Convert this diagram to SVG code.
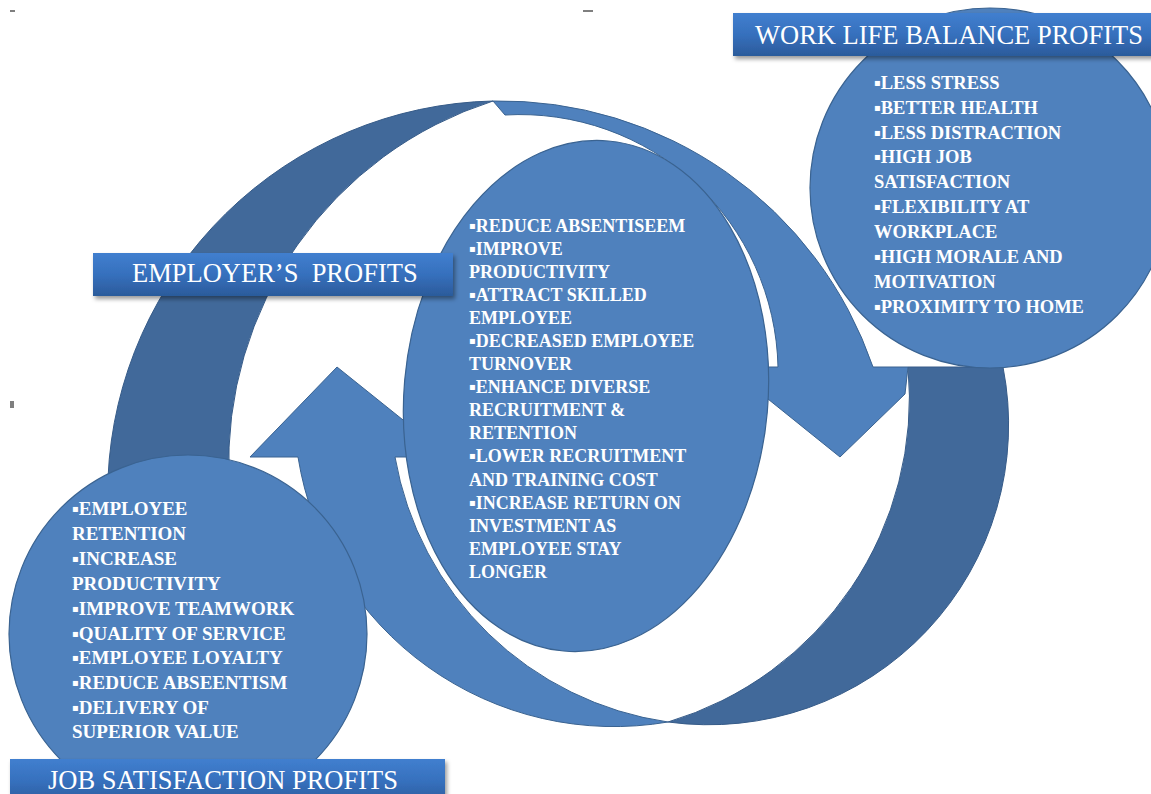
<svg xmlns="http://www.w3.org/2000/svg" width="1151" height="794" viewBox="0 0 1151 794">
  <style>
    .back{fill:#41699a;stroke:#365b88;stroke-width:1}
    .front{fill:#4f81bd;stroke:#3a6391;stroke-width:1}
    .bubble{fill:#4f81bd;stroke:#3a6391;stroke-width:1.2}
    .banner{fill:url(#bannerFill);filter:url(#bannerShadow)}
    .title{font-family:"Liberation Serif","Times New Roman",serif;font-size:26.5px;fill:#ffffff;white-space:pre}
    .body{font-family:"Liberation Serif","Times New Roman",serif;font-weight:bold;fill:#ffffff}
    .dot{font-family:"DejaVu Sans",sans-serif;font-size:10px;font-weight:normal;baseline-shift:3px}
    .mark{fill:#7f7f7f}
  </style>
  <defs>
    <linearGradient id="bannerFill" x1="0" y1="0" x2="0" y2="1">
      <stop offset="0" stop-color="#417fcf"/>
      <stop offset="0.5" stop-color="#3670bd"/>
      <stop offset="1" stop-color="#2b5b9b"/>
    </linearGradient>
    <filter id="bannerShadow" x="-5%" y="-20%" width="110%" height="160%">
      <feDropShadow dx="2" dy="3" stdDeviation="2" flood-color="#000" flood-opacity="0.4"/>
    </filter>
  </defs>

  <rect width="1151" height="794" fill="#ffffff"/>

  <!-- stray page marks -->
  <rect class="mark" x="10" y="10" width="5" height="2"/>
  <rect class="mark" x="583" y="10" width="10" height="2"/>
  <rect class="mark" x="10" y="401" width="4" height="7"/>

  <!-- the two circular arrows linking the three benefit groups -->
  <g id="connectors">
    <!-- back halves (darker shade) -->
    <path class="back" d="M 493 101 A 394 394 0 0 0 108 478 L 229 478 A 380 380 0 0 1 493 101 Z"/>
    <path class="back" d="M 668 722 A 300 300 0 0 0 1003 367 L 908 367 A 338 338 0 0 1 668 722 Z"/>
    <!-- front halves with arrowheads -->
    <path class="front" d="M 493 101 A 394 394 0 0 1 873 367 L 908 367 L 905 394 L 840 457 L 763 395 L 763 367 L 778 367 A 258 258 0 0 0 505 115 Z"/>
    <path class="front" d="M 337 367 L 250 457 L 298 457 A 320 320 0 0 0 668 722 A 324 324 0 0 1 395 457 L 428 457 L 428 440 Z"/>
  </g>

  <!-- employer's profits -->
  <g id="employer">
    <ellipse class="bubble" cx="586" cy="396" rx="182" ry="256" transform="rotate(5 586 396)"/>
    <text class="body" font-size="18">
      <tspan x="469" y="232"><tspan class="dot">▪</tspan>REDUCE ABSENTISEEM</tspan>
      <tspan x="469" y="255"><tspan class="dot">▪</tspan>IMPROVE</tspan>
      <tspan x="469" y="278">PRODUCTIVITY</tspan>
      <tspan x="469" y="301"><tspan class="dot">▪</tspan>ATTRACT SKILLED</tspan>
      <tspan x="469" y="324">EMPLOYEE</tspan>
      <tspan x="469" y="347"><tspan class="dot">▪</tspan>DECREASED EMPLOYEE</tspan>
      <tspan x="469" y="370">TURNOVER</tspan>
      <tspan x="469" y="393"><tspan class="dot">▪</tspan>ENHANCE DIVERSE</tspan>
      <tspan x="469" y="416">RECRUITMENT &amp;</tspan>
      <tspan x="469" y="439">RETENTION</tspan>
      <tspan x="469" y="462"><tspan class="dot">▪</tspan>LOWER RECRUITMENT</tspan>
      <tspan x="469" y="486">AND TRAINING COST</tspan>
      <tspan x="469" y="509"><tspan class="dot">▪</tspan>INCREASE RETURN ON</tspan>
      <tspan x="469" y="532">INVESTMENT AS</tspan>
      <tspan x="469" y="555">EMPLOYEE STAY</tspan>
      <tspan x="469" y="578">LONGER</tspan>
    </text>
    <rect class="banner" x="93" y="253" width="360" height="43"/>
    <text class="title" x="132" y="282">EMPLOYER’S  PROFITS</text>
  </g>

  <!-- work life balance profits -->
  <g id="work-life">
    <circle class="bubble" cx="990" cy="188" r="180"/>
    <text class="body" font-size="18.5">
      <tspan x="874" y="89"><tspan class="dot">▪</tspan>LESS STRESS</tspan>
      <tspan x="874" y="114"><tspan class="dot">▪</tspan>BETTER HEALTH</tspan>
      <tspan x="874" y="139"><tspan class="dot">▪</tspan>LESS DISTRACTION</tspan>
      <tspan x="874" y="163"><tspan class="dot">▪</tspan>HIGH JOB</tspan>
      <tspan x="874" y="188">SATISFACTION</tspan>
      <tspan x="874" y="213"><tspan class="dot">▪</tspan>FLEXIBILITY AT</tspan>
      <tspan x="874" y="238">WORKPLACE</tspan>
      <tspan x="874" y="263"><tspan class="dot">▪</tspan>HIGH MORALE AND</tspan>
      <tspan x="874" y="288">MOTIVATION</tspan>
      <tspan x="874" y="313"><tspan class="dot">▪</tspan>PROXIMITY TO HOME</tspan>
    </text>
    <rect class="banner" x="733" y="13" width="430" height="43"/>
    <text class="title" x="755" y="44">WORK LIFE BALANCE PROFITS</text>
  </g>

  <!-- job satisfaction profits -->
  <g id="job-satisfaction">
    <circle class="bubble" cx="188" cy="634" r="179"/>
    <text class="body" font-size="19">
      <tspan x="72" y="515"><tspan class="dot">▪</tspan>EMPLOYEE</tspan>
      <tspan x="72" y="540">RETENTION</tspan>
      <tspan x="72" y="565"><tspan class="dot">▪</tspan>INCREASE</tspan>
      <tspan x="72" y="590">PRODUCTIVITY</tspan>
      <tspan x="72" y="615"><tspan class="dot">▪</tspan>IMPROVE TEAMWORK</tspan>
      <tspan x="72" y="640"><tspan class="dot">▪</tspan>QUALITY OF SERVICE</tspan>
      <tspan x="72" y="664"><tspan class="dot">▪</tspan>EMPLOYEE LOYALTY</tspan>
      <tspan x="72" y="689"><tspan class="dot">▪</tspan>REDUCE ABSEENTISM</tspan>
      <tspan x="72" y="714"><tspan class="dot">▪</tspan>DELIVERY OF</tspan>
      <tspan x="72" y="738">SUPERIOR VALUE</tspan>
    </text>
    <rect class="banner" x="10" y="759" width="435" height="45"/>
    <text class="title" x="48" y="789">JOB SATISFACTION PROFITS</text>
  </g>
</svg>
